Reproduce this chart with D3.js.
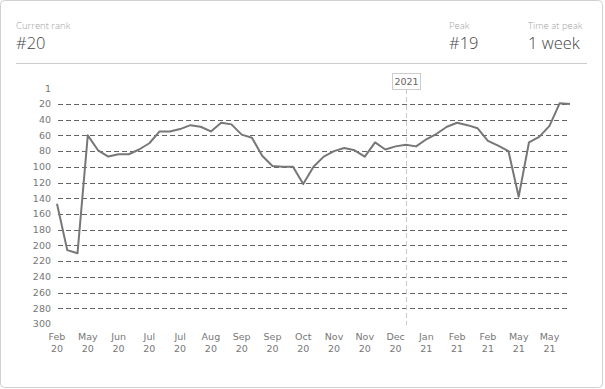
<!DOCTYPE html>
<html>
<head>
<meta charset="utf-8">
<script src="https://cdn.jsdelivr.net/npm/d3@7"></script>
<style>
  body { margin: 0; background: #fff; }
  svg { display: block; }
</style>
</head>
<body>
<div id="chart"></div>
<script>
// weekly rank, one value per point
var ranks = [147, 206, 210, 60, 79, 87, 84, 84, 78, 70,
             55, 55, 52, 47, 49, 55, 44, 46, 59, 63,
             86, 99, 100, 100, 122, 100, 87, 80, 76, 79,
             87, 69, 78, 74, 72, 74, 65, 58, 49, 44,
             47, 51, 67, 73, 80, 138, 69, 62, 48, 19, 20];

// x labels every third point
var tickMonths = ["Feb", "May", "Jun", "Jul", "Jul", "Aug", "Sep", "Sep", "Oct",
                  "Nov", "Nov", "Dec", "Jan", "Feb", "Feb", "May", "May"];
var tickYears = ["20", "20", "20", "20", "20", "20", "20", "20", "20",
                 "20", "20", "20", "21", "21", "21", "21", "21"];
var yTicks = [1, 20, 40, 60, 80, 100, 120, 140, 160, 180, 200, 220, 240, 260, 280, 300];
var yearMarker = { index: 34, label: "2021" };

var stats = [
  { label: "Current rank", value: "#20", x: 16 },
  { label: "Peak", value: "#19", x: 449 },
  { label: "Time at peak", value: "1 week", x: 528 }
];

var width = 605, height = 389;

var svg = d3.select("#chart").append("svg")
    .attr("width", width)
    .attr("height", height);

// card
svg.append("rect")
    .attr("x", 0.5).attr("y", 0.5)
    .attr("width", 602).attr("height", 387)
    .attr("rx", 4)
    .attr("fill", "#fff")
    .attr("stroke", "#d0d0d0");

var head = svg.selectAll(".stat")
    .data(stats)
    .enter().append("g")
    .attr("class", "stat");

head.append("text")
    .attr("x", function (d) { return d.x; })
    .attr("y", 29)
    .attr("font-family", "Open Sans, sans-serif")
    .attr("font-weight", 300)
    .attr("font-size", 9.5)
    .attr("fill", "#a0a0a0")
    .text(function (d) { return d.label; });

head.append("text")
    .attr("x", function (d) { return d.x; })
    .attr("y", 49)
    .attr("font-family", "Open Sans, sans-serif")
    .attr("font-weight", 300)
    .attr("font-size", 16.5)
    .attr("fill", "#444")
    .text(function (d) { return d.value; });

svg.append("line")
    .attr("x1", 16).attr("x2", 587)
    .attr("y1", 63.5).attr("y2", 63.5)
    .attr("stroke", "#ccc");

var x = d3.scaleLinear()
    .domain([0, ranks.length - 1])
    .range([57, 570]);

var y = d3.scaleLinear()
    .domain([1, 300])
    .range([89, 324]);

var axisFont = "DejaVu Sans, Verdana, sans-serif";

// gridlines
svg.selectAll(".grid")
    .data(yTicks.filter(function (t) { return t !== 1 && t !== 300; }))
    .enter().append("line")
    .attr("class", "grid")
    .attr("x1", 58).attr("x2", 570)
    .attr("y1", function (d) { return Math.round(y(d)) + 0.5; })
    .attr("y2", function (d) { return Math.round(y(d)) + 0.5; })
    .attr("stroke", "#666")
    .attr("stroke-dasharray", "5,3");

// y labels
svg.selectAll(".ylab")
    .data(yTicks)
    .enter().append("text")
    .attr("class", "ylab")
    .attr("x", 51)
    .attr("y", function (d) { return y(d); })
    .attr("dy", "0.35em")
    .attr("text-anchor", "end")
    .attr("font-family", axisFont)
    .attr("font-size", 9.5)
    .attr("fill", "#777")
    .text(function (d) { return d; });

// x labels
var xt = svg.selectAll(".xlab")
    .data(tickMonths)
    .enter().append("text")
    .attr("class", "xlab")
    .attr("text-anchor", "middle")
    .attr("font-family", axisFont)
    .attr("font-size", 9.5)
    .attr("fill", "#777");

xt.append("tspan")
    .attr("x", function (d, i) { return x(i * 3); })
    .attr("y", 340)
    .text(function (d) { return d; });

xt.append("tspan")
    .attr("x", function (d, i) { return x(i * 3); })
    .attr("y", 351.5)
    .text(function (d, i) { return tickYears[i]; });

// year marker
var mx = Math.round(x(yearMarker.index)) + 0.5;
svg.append("line")
    .attr("x1", mx).attr("x2", mx)
    .attr("y1", 89).attr("y2", 325)
    .attr("stroke", "#c8c8c8")
    .attr("stroke-dasharray", "5,3");

svg.append("rect")
    .attr("x", mx - 14).attr("y", 73.5)
    .attr("width", 28).attr("height", 16)
    .attr("fill", "#fff")
    .attr("stroke", "#ccc");

svg.append("text")
    .attr("x", mx)
    .attr("y", 85)
    .attr("text-anchor", "middle")
    .attr("font-family", axisFont)
    .attr("font-size", 9.5)
    .attr("fill", "#666")
    .text(yearMarker.label);

// rank line
var line = d3.line()
    .x(function (d, i) { return x(i); })
    .y(function (d) { return y(d); });

svg.append("path")
    .datum(ranks)
    .attr("d", line)
    .attr("fill", "none")
    .attr("stroke", "#777")
    .attr("stroke-width", 2)
    .attr("stroke-linejoin", "round");
</script>
</body>
</html>
